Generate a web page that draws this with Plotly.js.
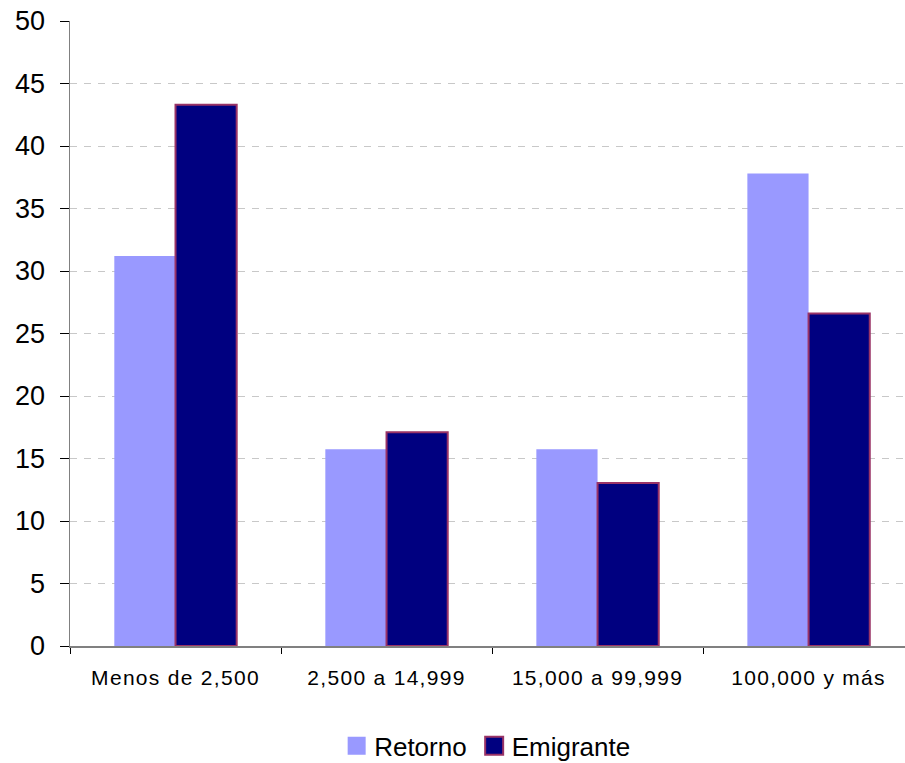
<!DOCTYPE html>
<html>
<head>
<meta charset="utf-8">
<script src="https://cdn.plot.ly/plotly-3.0.1.min.js"></script>
<style>
html,body{margin:0;padding:0;background:#fff;overflow:hidden;}
#chart{width:905px;height:763px;}
.xtick text{letter-spacing:1.3px;}
</style>
</head>
<body>
<div id="chart"></div>
<script>
const categories = ["Menos de 2,500", "2,500 a 14,999", "15,000 a 99,999", "100,000 y más"];
const retorno = [31.2, 15.75, 15.75, 37.8];
const emigrante = [43.3, 17.1, 13.05, 26.6];
const yTicks = [0, 5, 10, 15, 20, 25, 30, 35, 40, 45, 50];

const traces = [
  {
    type: "bar", name: "Retorno", x: categories, y: retorno,
    marker: {color: "#9999FF", line: {color: "#9999FF", width: 0}},
    hoverinfo: "skip"
  },
  {
    type: "bar", name: "Emigrante", x: categories, y: emigrante,
    marker: {color: "#000080", line: {color: "#993366", width: 2}},
    hoverinfo: "skip"
  }
];

const layout = {
  width: 905, height: 763,
  margin: {l: 70, r: 0, t: 21, b: 117, autoexpand: false},
  paper_bgcolor: "#ffffff", plot_bgcolor: "#ffffff",
  barmode: "group", bargap: 0.42, bargroupgap: 0,
  showlegend: true,
  legend: {
    orientation: "h", x: 0.4966, xanchor: "center", y: -0.122, yanchor: "top",
    font: {family: "Liberation Sans, Arial, sans-serif", size: 26, color: "#000"},
    itemsizing: "constant", traceorder: "normal", itemwidth: 30
  },
  xaxis: {
    type: "category",
    range: [-0.5, 3.457],
    showline: true, linecolor: "#808080", linewidth: 1.5,
    ticks: "outside", ticklen: 6, tickcolor: "#000", tickwidth: 1,
    tickson: "boundaries",
    showgrid: false, zeroline: false,
    tickfont: {family: "Liberation Sans, Arial, sans-serif", size: 21, color: "#000"},
    ticklabelstandoff: 12,
    automargin: false,
    fixedrange: true
  },
  yaxis: {
    range: [0, 50],
    tickvals: yTicks,
    ticktext: yTicks.map(String),
    showline: true, linecolor: "#808080", linewidth: 1.5,
    ticks: "outside", ticklen: 9, tickcolor: "#000", tickwidth: 1,
    showgrid: true, gridcolor: "#c8c8c8", gridwidth: 1, griddash: "7px,7px",
    zeroline: false,
    tickfont: {family: "Liberation Sans, Arial, sans-serif", size: 27, color: "#000"},
    ticklabelstandoff: 9,
    automargin: false,
    fixedrange: true
  }
};

Plotly.newPlot("chart", traces, layout, {staticPlot: true, displayModeBar: false}).then(function (gd) {
  gd.querySelectorAll(".legendpoints path").forEach(function (p) {
    p.setAttribute("d", "M11.5,9H-6.5V-9H11.5Z");
  });
});
</script>
</body>
</html>
